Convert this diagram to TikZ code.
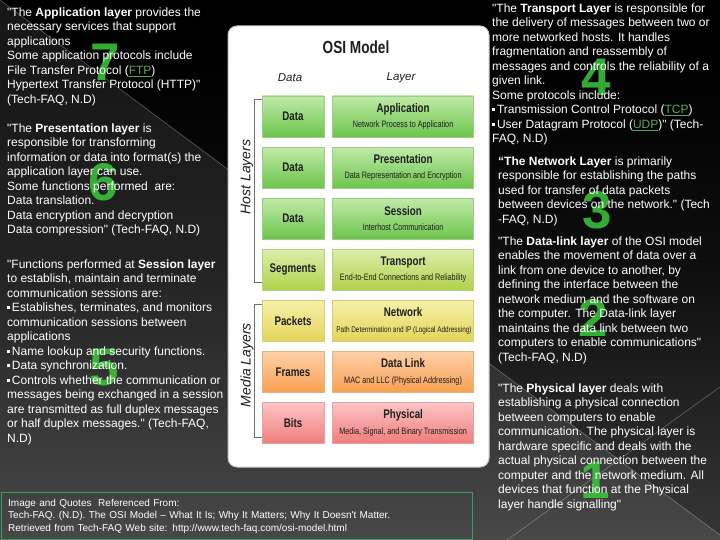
\documentclass[tikz,border=0pt]{standalone}
\usepackage{fontspec}
\setmainfont{Liberation Sans}[Ligatures=TeXOff]
\newfontfamily\narrowfont{Liberation Sans}[FakeStretch=0.78]
\usetikzlibrary{positioning}

\definecolor{bgA}{HTML}{6C6C6C}
\definecolor{bgB}{HTML}{363636}
\definecolor{bgC}{HTML}{0E0E0E}
\definecolor{numgreen}{HTML}{3CC83C}
\definecolor{linkgreen}{HTML}{5AA55A}
\definecolor{citeline}{HTML}{3C9C64}
\definecolor{inkgray}{HTML}{1E1E1E}
\definecolor{bracketgray}{HTML}{707070}
\definecolor{grnTop}{HTML}{C0EAA8}
\definecolor{grnBot}{HTML}{6CC44C}
\definecolor{grnLine}{HTML}{9CCF84}
\definecolor{limeTop}{HTML}{DCEDAA}
\definecolor{limeBot}{HTML}{AED24A}
\definecolor{limeLine}{HTML}{B8D080}
\definecolor{ylwTop}{HTML}{F6F0A8}
\definecolor{ylwBot}{HTML}{E4D45A}
\definecolor{ylwLine}{HTML}{D8CC78}
\definecolor{orgTop}{HTML}{FDD0A8}
\definecolor{orgBot}{HTML}{F8A052}
\definecolor{orgLine}{HTML}{E8B080}
\definecolor{redTop}{HTML}{FCC4C4}
\definecolor{redBot}{HTML}{F07C7C}
\definecolor{redLine}{HTML}{E8A0A0}

\pgfdeclareverticalshading{slidebg}{100bp}{color(0bp)=(bgA); color(25bp)=(bgB); color(50bp)=(bgC); color(70bp)=(black); color(100bp)=(black)}

\newcommand\lnk[1]{\textcolor{linkgreen}{\underline{#1}}}
\newcommand\bul{\rule[2.6pt]{3.2pt}{3.2pt}\hspace{1.6pt}}
\newcommand\laytitle{\narrowfont\bfseries\fontsize{12.5}{15.5}\selectfont}
\newcommand\laysub[1][9.3]{\narrowfont\fontsize{#1}{15.5}\selectfont}

\begin{document}
\begin{tikzpicture}[
    x=1pt, y=-1pt,
    quotetext/.style={anchor=north west, align=left, inner sep=0pt, text=white, font=\fontsize{12}{14.5}\selectfont},
    bignum/.style={inner sep=0pt, text=numgreen, text opacity=0.85, font=\fontsize{53}{53}\selectfont\bfseries},
    cell/.style={draw, line width=0.6pt, minimum height=41pt, inner sep=0pt, text=inkgray},
    datacell/.style={cell, minimum width=62pt, font=\narrowfont\bfseries\fontsize{12.5}{15.5}\selectfont},
    layercell/.style={cell, minimum width=141pt, align=center, font=\fontsize{9.3}{15.5}\selectfont},
    greencell/.style={top color=grnTop, bottom color=grnBot, draw=grnLine},
    limecell/.style={top color=limeTop, bottom color=limeBot, draw=limeLine},
    yellowcell/.style={top color=ylwTop, bottom color=ylwBot, draw=ylwLine},
    orangecell/.style={top color=orgTop, bottom color=orgBot, draw=orgLine},
    redcell/.style={top color=redTop, bottom color=redBot, draw=redLine},
    bracket/.style={draw=bracketgray, line width=0.8pt},
    sidelabel/.style={rotate=90, text=inkgray, font=\itshape\fontsize{14}{14}\selectfont},
    colhead/.style={text=inkgray, font=\itshape\fontsize{11.5}{12}\selectfont}
]
\useasboundingbox (0,0) rectangle (720,540);
\shade[shading=slidebg] (0,0) rectangle (720,540);
\fill[white, opacity=0.09] (0,0) -- (720,535) -- (720,540) -- (0,540) -- cycle;
\draw[white, opacity=0.3, line width=0.6pt] (0,0) -- (720,535);
\draw[white, opacity=0.3, line width=0.6pt] (507,540) -- (720,387);

\node[bignum] (num7) at (105,62) {7};
\node[bignum] (num6) at (103,182) {6};
\node[bignum] (num5) at (104,368) {5};
\node[bignum] (num4) at (596,77) {4};
\node[bignum] (num3) at (597,210) {3};
\node[bignum] (num2) at (593,318) {2};
\node[bignum] (num1) at (595,480) {1};

\node[quotetext] (appq) at (7,6) {\strut"The \textbf{Application layer} provides the\\necessary services that support\\applications\\Some application protocols include\\File Transfer Protocol (\lnk{FTP})\\Hypertext Transfer Protocol (HTTP)"\\(Tech-FAQ, N.D)};
\node[quotetext] (presq) at (7,122) {\strut"The \textbf{Presentation layer} is\\responsible for transforming\\information or data into format(s) the\\application layer can use.\\Some functions performed\ \ are:\\Data translation.\\Data encryption and decryption\\Data compression" (Tech-FAQ, N.D)};
\node[quotetext] (sessq) at (7,258) {\strut"Functions performed at \textbf{Session layer}\\to establish, maintain and terminate\\communication sessions are:\\\bul Establishes, terminates, and monitors\\communication sessions between\\applications\\\bul Name lookup and security functions.\\\bul Data synchronization.\\\bul Controls whether the communication or\\messages being exchanged in a session\\are transmitted as full duplex messages\\or half duplex messages." (Tech-FAQ,\\N.D)};
\node[quotetext] (transq) at (492,2) {\strut"The \textbf{Transport Layer} is responsible for\\the delivery of messages between two or\\more networked hosts. It handles\\fragmentation and reassembly of\\messages and controls the reliability of a\\given link.\\Some protocols include:\\\bul Transmission Control Protocol (\lnk{TCP})\\\bul User Datagram Protocol (\lnk{UDP})" (Tech-\\FAQ, N.D)};
\node[quotetext] (netq) at (498,155) {\strut\textbf{“The Network Layer} is primarily\\responsible for establishing the paths\\used for transfer of data packets\\between devices on the network." (Tech\\-FAQ, N.D)};
\node[quotetext] (linkq) at (498,235) {\strut"The \textbf{Data-link layer} of the OSI model\\enables the movement of data over a\\link from one device to another, by\\defining the interface between the\\network medium and the software on\\the computer. The Data-link layer\\maintains the data link between two\\computers to enable communications"\\(Tech-FAQ, N.D)};
\node[quotetext] (physq) at (498,382) {\strut"The \textbf{Physical layer} deals with\\establishing a physical connection\\between computers to enable\\communication. The physical layer is\\hardware specific and deals with the\\actual physical connection between the\\computer and the network medium. All\\devices that function at the Physical\\layer handle signalling"};

\node[draw=citeline, line width=1.2pt, anchor=north west, minimum width=471pt, minimum height=47pt, text width=457pt, inner xsep=7pt, align=left, text=white, font=\fontsize{10}{12.5}\selectfont] (cite) at (0.6,492) {Image and Quotes\ \ Referenced From:\\Tech-FAQ. (N.D). The OSI Model – What It Is; Why It Matters; Why It Doesn't Matter.\\Retrieved from Tech-FAQ Web site: http://www.tech-faq.com/osi-model.html};

\fill[white, draw=gray!45, line width=1pt, rounded corners=9pt] (228,26) rectangle (489,467);
\node[text=inkgray, font=\narrowfont\bfseries\fontsize{17.5}{18}\selectfont] (osititle) at (356,47) {OSI Model};
\node[colhead] (datahead) at (290,78) {Data};
\node[colhead] (layerhead) at (401,78) {Layer};

\node[datacell, greencell] (d1) at (293,116.5) {Data};
\node[datacell, greencell, below=9.5pt of d1] (d2) {Data};
\node[datacell, greencell, below=9.5pt of d2] (d3) {Data};
\node[datacell, limecell, below=9.5pt of d3] (d4) {Segments};
\node[datacell, yellowcell, below=9.5pt of d4] (d5) {Packets};
\node[datacell, orangecell, below=9.5pt of d5] (d6) {Frames};
\node[datacell, redcell, below=9.5pt of d6] (d7) {Bits};

\node[layercell, greencell, right=8pt of d1] (l1) {{\laytitle Application}\\{\laysub Network Process to Application}};
\node[layercell, greencell, right=8pt of d2] (l2) {{\laytitle Presentation}\\{\laysub Data Representation and Encryption}};
\node[layercell, greencell, right=8pt of d3] (l3) {{\laytitle Session}\\{\laysub Interhost Communication}};
\node[layercell, limecell, right=8pt of d4] (l4) {{\laytitle Transport}\\{\laysub End-to-End Connections and Reliability}};
\node[layercell, yellowcell, right=8pt of d5] (l5) {{\laytitle Network}\\{\laysub[8.2] Path Determination and IP (Logical Addressing)}};
\node[layercell, orangecell, right=8pt of d6] (l6) {{\laytitle Data Link}\\{\laysub MAC and LLC (Physical Addressing)}};
\node[layercell, redcell, right=8pt of d7] (l7) {{\laytitle Physical}\\{\laysub Media, Signal, and Binary Transmission}};

\draw[bracket] ([yshift=-4pt]d1.north west) -- ++(-7pt,0) |- ([yshift=8pt]d4.south west);
\draw[bracket] ([yshift=-4pt]d5.north west) -- ++(-7pt,0) |- ([yshift=7pt]d7.south west);
\node[sidelabel] (hostlab) at (247,177) {Host Layers};
\node[sidelabel] (medialab) at (247,365) {Media Layers};
\end{tikzpicture}
\end{document}
